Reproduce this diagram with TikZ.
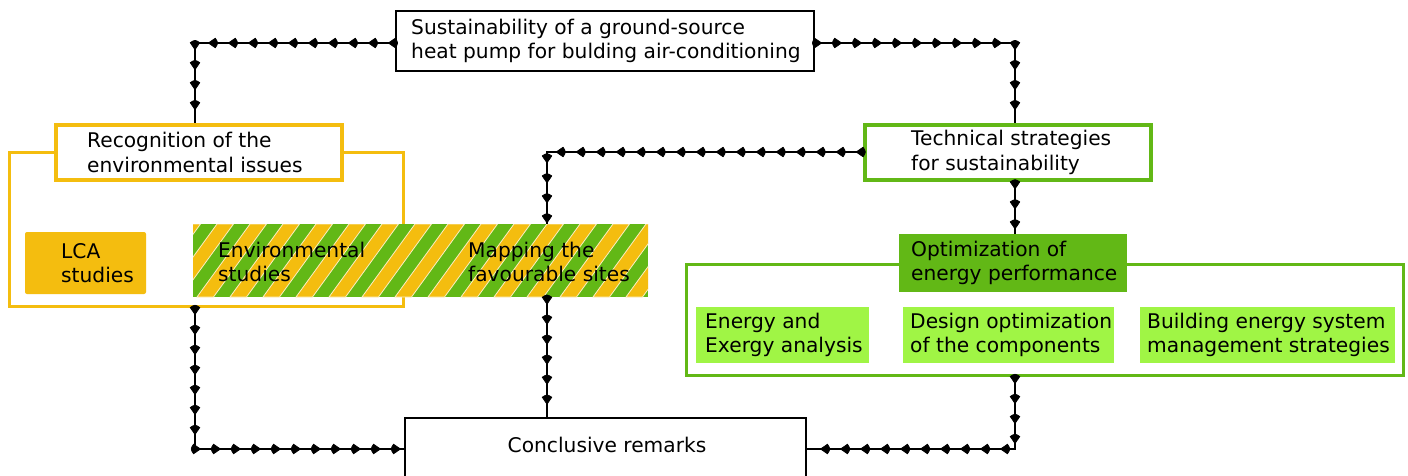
\documentclass[tikz,border=0pt]{standalone}
\usepackage{fontspec}
\setmainfont{DejaVu Sans}
\usetikzlibrary{decorations.markings}
\definecolor{yel}{HTML}{F4BD0F}
\definecolor{grn}{HTML}{62B816}
\definecolor{lgrn}{HTML}{A0F545}
\begin{document}
\begin{tikzpicture}[x=1pt,y=-1pt,
  txt/.style={font=\fontsize{20.2}{24.5}\selectfont,anchor=west,align=left,inner sep=0pt},
  rbox/.style={rectangle,inner sep=0pt},
  plainbox/.style={rbox,draw=black,line width=1.3pt,fill=white},
  yhead/.style={rbox,draw=yel,line width=3.8pt,fill=white},
  ghead/.style={rbox,draw=grn,line width=3.8pt,fill=white},
  frame/.style={rbox,line width=3pt},
  flow/.style={line width=1.9pt,postaction={decorate},
    decoration={markings,mark=between positions 7pt and 1 step 20pt with
      {\filldraw[black,line width=0.7pt,line join=round] (0pt,0pt) -- (-7pt,4.8pt) .. controls (-10pt,0pt) .. (-7pt,-4.8pt) -- cycle;}}}
]
\useasboundingbox (0,0) rectangle (1408,476);
\fill[white] (0,0) rectangle (1408,476);

% corners
\coordinate (cTL) at (195,43);
\coordinate (cTR) at (1015,43);
\coordinate (cM) at (547,152);
\coordinate (cBL) at (195,449);
\coordinate (cBR) at (1015,449);

% frames
\node[frame,draw=yel,minimum width=394pt,minimum height=153pt] (lframe) at (206,229.5) {};
\node[frame,draw=grn,minimum width=717pt,minimum height=111pt] (rframe) at (1044.5,319.5) {};

% top box
\node[plainbox,minimum width=418pt,minimum height=60pt] (top) at (605,41) {};
\node[txt] (topt) at (411,41) {Sustainability of a ground-source\\heat pump for bulding air-conditioning};

% headers
\node[yhead,minimum width=286pt,minimum height=55pt] (recog) at (199,152.5) {};
\node[txt] (recogt) at (87,152.5) {Recognition of the\\environmental issues};
\node[ghead,minimum width=286pt,minimum height=55pt] (tech) at (1008,152.5) {};
\node[txt] (techt) at (911,152.5) {Technical strategies\\for sustainability};

% LCA
\node[rbox,fill=yel,rounded corners=2pt,minimum width=121pt,minimum height=62pt] (lca) at (85.5,263) {};
\node[txt] (lcat) at (61,263) {LCA\\studies};

% striped box
\node[rbox,minimum width=455pt,minimum height=73pt] (stripe) at (420.5,260.5) {};
\begin{scope}
\clip (193,224) rectangle (648,297);
\fill[grn] (193,224) rectangle (648,297);
\foreach \k in {0,...,16}{
  \pgfmathsetmacro\xa{193-62+\k*33}
  \fill[yel,draw=white!75!yel,line width=0.8pt] (\xa,297) -- ++(16.5,0) -- ++(53,-73) -- ++(-16.5,0) -- cycle;
}
\end{scope}
\node[txt] (env) at (218,262) {Environmental\\studies};
\node[txt] (map) at (468,262) {Mapping the\\favourable sites};

% optimization
\node[rbox,fill=grn,minimum width=228pt,minimum height=58pt] (opt) at (1013,263) {};
\node[txt] (optt) at (911,263) {Optimization of\\energy performance};

% light green boxes
\node[rbox,fill=lgrn,minimum width=173pt,minimum height=56pt] (ener) at (782.5,335) {};
\node[txt] (enert) at (705,335) {Energy and\\Exergy analysis};
\node[rbox,fill=lgrn,minimum width=211pt,minimum height=56pt] (design) at (1008.5,335) {};
\node[txt] (designt) at (910,335) {Design optimization\\of the components};
\node[rbox,fill=lgrn,minimum width=255pt,minimum height=56pt] (build) at (1267.5,335) {};
\node[txt] (buildt) at (1147,335) {Building energy system\\management strategies};

% conclusive
\node[plainbox,minimum width=401pt,minimum height=62pt] (concl) at (605.5,449) {};
\node[txt,anchor=center] (conclt) at (607,445) {Conclusive remarks};

% connectors
\draw[flow] (top.west |- cTL) -- (cTL) -- (cTL |- recog.north);
\draw[flow] (top.east |- cTR) -- (cTR) -- (cTR |- tech.north);
\draw[flow] (tech.west |- cM) -- (cM) -- (cM |- stripe.north);
\draw[flow] (cTR |- tech.south) -- (cTR |- opt.north);
\draw[flow] (cM |- stripe.south) -- (cM |- concl.north);
\draw[flow] (cBL |- lframe.south) -- (cBL) -- (concl.west |- cBL);
\draw[flow] (cBR |- rframe.south) -- (cBR) -- (concl.east |- cBR);
\end{tikzpicture}
\end{document}
